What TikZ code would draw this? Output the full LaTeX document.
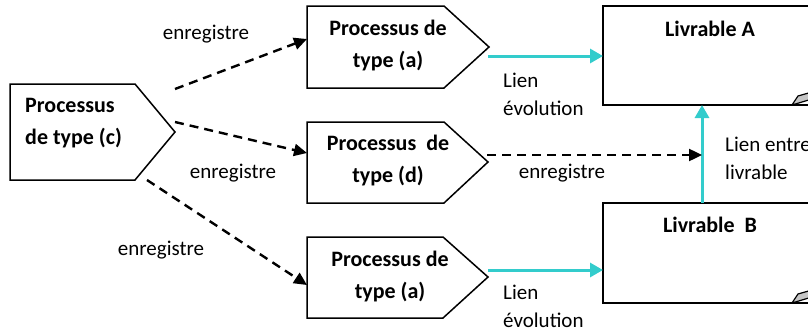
\documentclass[tikz,border=0pt]{standalone}
\usepackage{fontspec}
\setmainfont{Carlito}
\usetikzlibrary{arrows.meta}
\definecolor{cyanlink}{HTML}{33CCCC}
\begin{document}
\begin{tikzpicture}[x=1pt,y=-1pt,
 shapeline/.style={draw=black,line width=1.5pt,line join=miter,fill=white},
 ptext/.style={font=\fontsize{22}{32}\selectfont\bfseries,align=center,inner sep=0pt},
 ltext/.style={font=\fontsize{21}{28}\selectfont,align=left,inner sep=0pt},
 rec/.style={draw=black,line width=2.4pt,dash pattern=on 9pt off 6pt,-{Triangle[length=13pt,width=12pt]}},
 evo/.style={draw=cyanlink,line width=3pt,-{Triangle[length=13pt,width=14pt]}},
 foldc/.style={draw=black,line width=1.2pt,fill=gray!45,line join=round},
]
\path[use as bounding box, fill=white] (0,0) rectangle (808,332);
\begin{scope}
\clip (0,0) rectangle (808,332);
% process (c)
\draw[shapeline] (10,84) -- (135,84) -- (175,132) -- (135,180) -- (10,180) -- cycle;
\node[ptext,align=left,anchor=west] (pc) at (25,123) {Processus\\de type (c)};
% process (a) top
\draw[shapeline] (307,6) -- (444,6) -- (489,47) -- (444,88) -- (307,88) -- cycle;
\node[ptext] (pa) at (388,46) {Processus de\\type (a)};
% process (d)
\draw[shapeline] (307,122) -- (444,122) -- (488,162) -- (444,203) -- (307,203) -- cycle;
\node[ptext] (pd) at (388,161) {Processus\ \ de\\type (d)};
% process (a) bottom
\draw[shapeline] (307,237) -- (443,237) -- (488,277) -- (443,318) -- (307,318) -- cycle;
\node[ptext] (pb) at (390,277) {Processus de\\type (a)};
% livrable A
\draw[line width=1.5pt,fill=white] (830,6) -- (603,6) -- (603,105) -- (792,105) -- (830,105);
\draw[foldc] (792,105) -- (798,96) -- (812,92) -- (812,99) -- cycle;
\node[ptext] (la) at (710,29) {Livrable A};
% livrable B
\draw[line width=1.5pt,fill=white] (830,203) -- (603,203) -- (603,303) -- (792,303) -- (830,303);
\draw[foldc] (792,303) -- (798,294) -- (812,290) -- (812,297) -- cycle;
\node[ptext] (lb) at (710,225) {Livrable\ \ B};
% connection points
\coordinate (co1) at (175,89);
\coordinate (co2) at (175,122);
\coordinate (co3) at (147,180);
\coordinate (pai) at (307,39);
\coordinate (pdi) at (307,153);
\coordinate (pbi) at (307,285);
\coordinate (pdo) at (487,155);
\coordinate (jn) at (702,155);
\coordinate (pao) at (488,56);
\coordinate (lai) at (603,56);
\coordinate (pbo) at (488,270);
\coordinate (lbi) at (603,270);
\coordinate (lbt) at (702,203);
\coordinate (lab) at (702,105);
% connectors
\draw[rec] (co1) -- (pai);
\draw[rec] (co2) -- (pdi);
\draw[rec] (co3) -- (pbi);
\draw[evo] (pao) -- (lai);
\draw[evo] (pbo) -- (lbi);
\draw[evo] (lbt) -- (lab);
\draw[rec] (pdo) -- (jn);
% labels
\node[ltext] (e1) at (206,34) {enregistre};
\node[ltext] (e2) at (233,173) {enregistre};
\node[ltext] (e3) at (161,250) {enregistre};
\node[ltext] (e4) at (562,173) {enregistre};
\node[ltext,anchor=west] (l1) at (503,94) {Lien\\évolution};
\node[ltext,anchor=west] (l2) at (503,306) {Lien\\évolution};
\node[ltext,anchor=west] (l3) at (725,158) {Lien entre\\livrable};
\end{scope}
\end{tikzpicture}
\end{document}
